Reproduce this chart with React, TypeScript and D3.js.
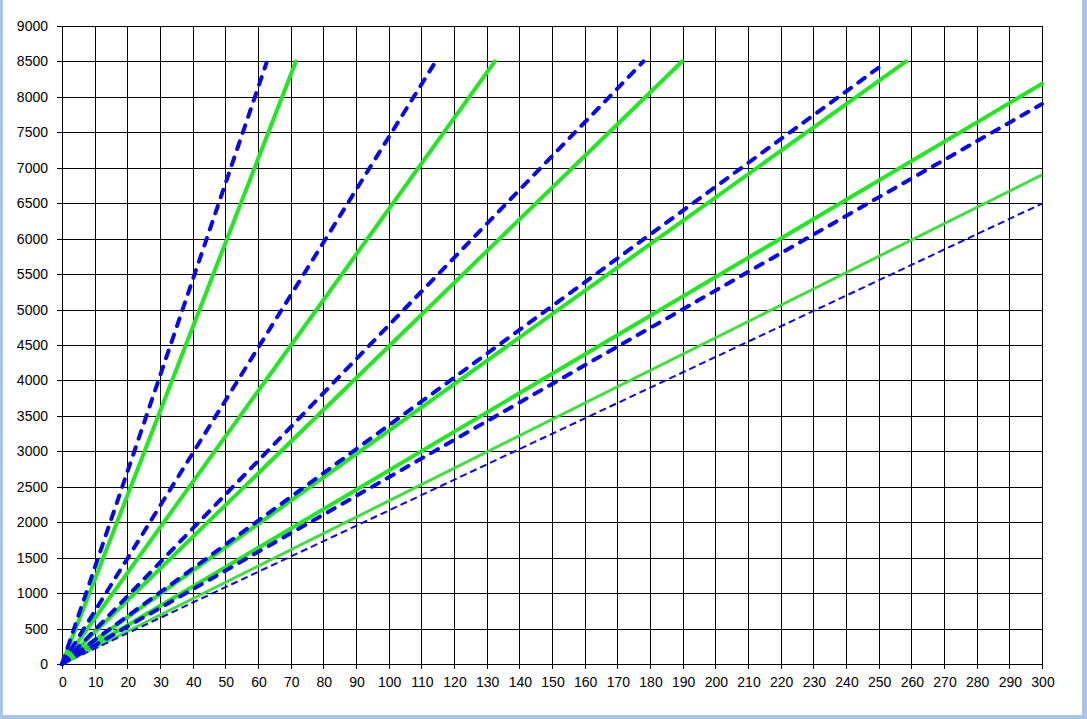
import React from "react";
import * as d3 from "d3";

const W = 1087;
const H = 719;

const xTicks = d3.range(0, 301, 10);
const yTicks = d3.range(0, 9001, 500);

// series: end points of straight lines from origin [x, y]
const blueThick1 = [[0, 0], [62.6, 8480]];
const greenThick1 = [[0, 0], [71.6, 8500]];
const blueThick2 = [[0, 0], [114.4, 8500]];
const greenThick2 = [[0, 0], [132.5, 8500]];
const blueThick3 = [[0, 0], [178.0, 8500]];
const greenThick3 = [[0, 0], [189.8, 8500]];
const blueThick4 = [[0, 0], [252.0, 8480]];
const greenThick4 = [[0, 0], [258.4, 8500]];
const greenThick5 = [[0, 0], [300, 8185]];
const blueThick5 = [[0, 0], [300, 7900]];
const greenThin = [[0, 0], [300, 6900]];
const blueThin = [[0, 0], [300, 6495]];

const greenSeries = [greenThick1, greenThick2, greenThick3, greenThick4, greenThick5];
const blueSeries = [blueThick1, blueThick2, blueThick3, blueThick4, blueThick5];

export default function App() {
  const x = d3.scaleLinear().domain([0, 300]).range([62, 1042]);
  const y = d3.scaleLinear().domain([0, 9000]).range([664, 26]);
  const line = d3
    .line<number[]>()
    .x((d) => x(d[0]))
    .y((d) => y(d[1]));

  const font = "Arial, 'Liberation Sans', sans-serif";
  const green = "#22e822";
  const blue = "#0a0ae6";

  return (
    <svg
      width={W}
      height={H}
      style={{ position: "absolute", left: 0, top: 0, background: "#fff" }}
    >
      <rect x={0} y={0} width={W} height={H} fill="#fff" />
      {/* grid */}
      {yTicks.map((t) => (
        <line
          key={"h" + t}
          x1={57}
          x2={x(300)}
          y1={Math.round(y(t)) + 0.5}
          y2={Math.round(y(t)) + 0.5}
          stroke="#000"
          strokeWidth={1}
        />
      ))}
      {xTicks.map((t) => (
        <line
          key={"v" + t}
          x1={Math.round(x(t)) + 0.5}
          x2={Math.round(x(t)) + 0.5}
          y1={y(9000)}
          y2={y(0) + 5}
          stroke="#000"
          strokeWidth={1}
        />
      ))}
      {/* lines */}
      <path d={line(greenThin as any) || ""} fill="none" stroke="#3ee03e" strokeWidth={3} />
      <path
        d={line(blueThin as any) || ""}
        fill="none"
        stroke={blue}
        strokeWidth={2}
        strokeDasharray="7 4"
      />
      {greenSeries.map((s, i) => (
        <path
          key={"g" + i}
          d={line(s as any) || ""}
          fill="none"
          stroke={green}
          strokeWidth={4}
          strokeLinecap="round"
        />
      ))}
      {blueSeries.map((s, i) => (
        <path
          key={"b" + i}
          d={line(s as any) || ""}
          fill="none"
          stroke={blue}
          strokeWidth={4}
          strokeDasharray="8 9"
          strokeLinecap="round"
        />
      ))}
      {/* labels */}
      {yTicks.map((t) => (
        <text
          key={"yl" + t}
          x={48}
          y={y(t) + 5}
          textAnchor="end"
          fontFamily={font}
          fontSize={14}
          fill="#000"
        >
          {t}
        </text>
      ))}
      {xTicks.map((t) => (
        <text
          key={"xl" + t}
          x={x(t) + 1}
          y={687}
          textAnchor="middle"
          fontFamily={font}
          fontSize={14}
          fill="#000"
        >
          {t}
        </text>
      ))}
      {/* frame border */}
      <rect x={0} y={0} width={3} height={H} fill="#a9c5e3" />
      <rect x={1082} y={0} width={5} height={H} fill="#a9c5e3" />
      <rect x={0} y={715} width={W} height={4} fill="#a9c5e3" />
    </svg>
  );
}
